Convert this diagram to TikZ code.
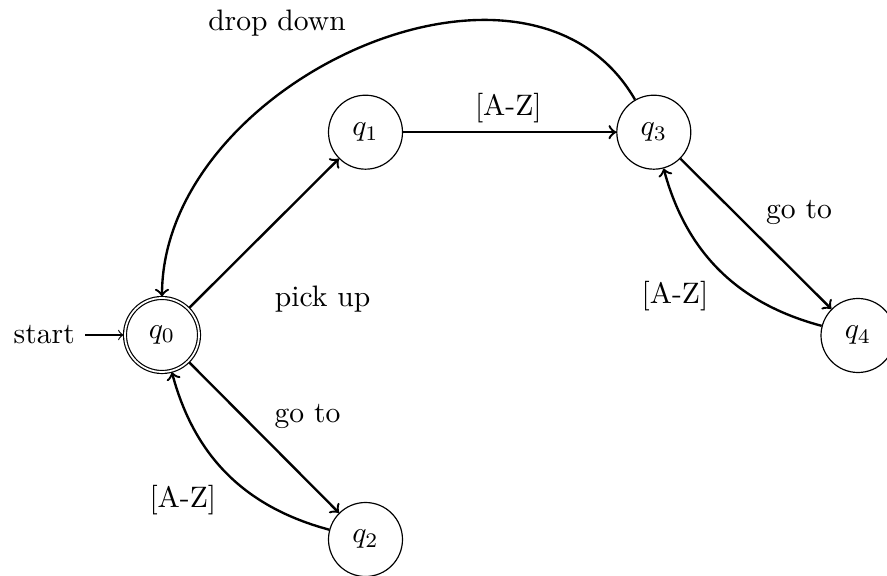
\documentclass[tikz,border=0pt]{standalone}
\usetikzlibrary{automata}
\begin{document}
\begin{tikzpicture}[x=0.33784pt,y=-0.33784pt,>=to,
  edgeline/.style={->,thick},
  lbl/.style={inner sep=0pt}]
\useasboundingbox (0,0) rectangle (887,576);
\node[state,initial,accepting] (q0) at (162,335) {$q_0$};
\node[state] (q1) at (365.5,132.2) {$q_1$};
\node[state] (q2) at (365.5,539.5) {$q_2$};
\node[state] (q3) at (653.8,132.2) {$q_3$};
\node[state] (q4) at (858,335.5) {$q_4$};
\draw[edgeline] (q0) -- (q1);
\draw[edgeline] (q1) -- (q3);
\draw[edgeline] (q0) -- (q2);
\draw[edgeline] (q3) -- (q4);
\draw[edgeline] (q2) to[bend left=30] (q0);
\draw[edgeline] (q4) to[bend left=30] (q3);
\draw[edgeline] (q3) to[out=120,in=90,looseness=1.07] (q0);
\node[lbl] (l1) at (277,23) {drop down};
\node[lbl] (l2) at (508.3,108.3) {[A-Z]};
\node[lbl] (l3) at (322.6,299.5) {pick up};
\node[lbl] (l4) at (799,212.2) {go to};
\node[lbl] (l5) at (675,296) {[A-Z]};
\node[lbl] (l6) at (307.5,416) {go to};
\node[lbl] (l7) at (182.8,500) {[A-Z]};
\end{tikzpicture}
\end{document}
